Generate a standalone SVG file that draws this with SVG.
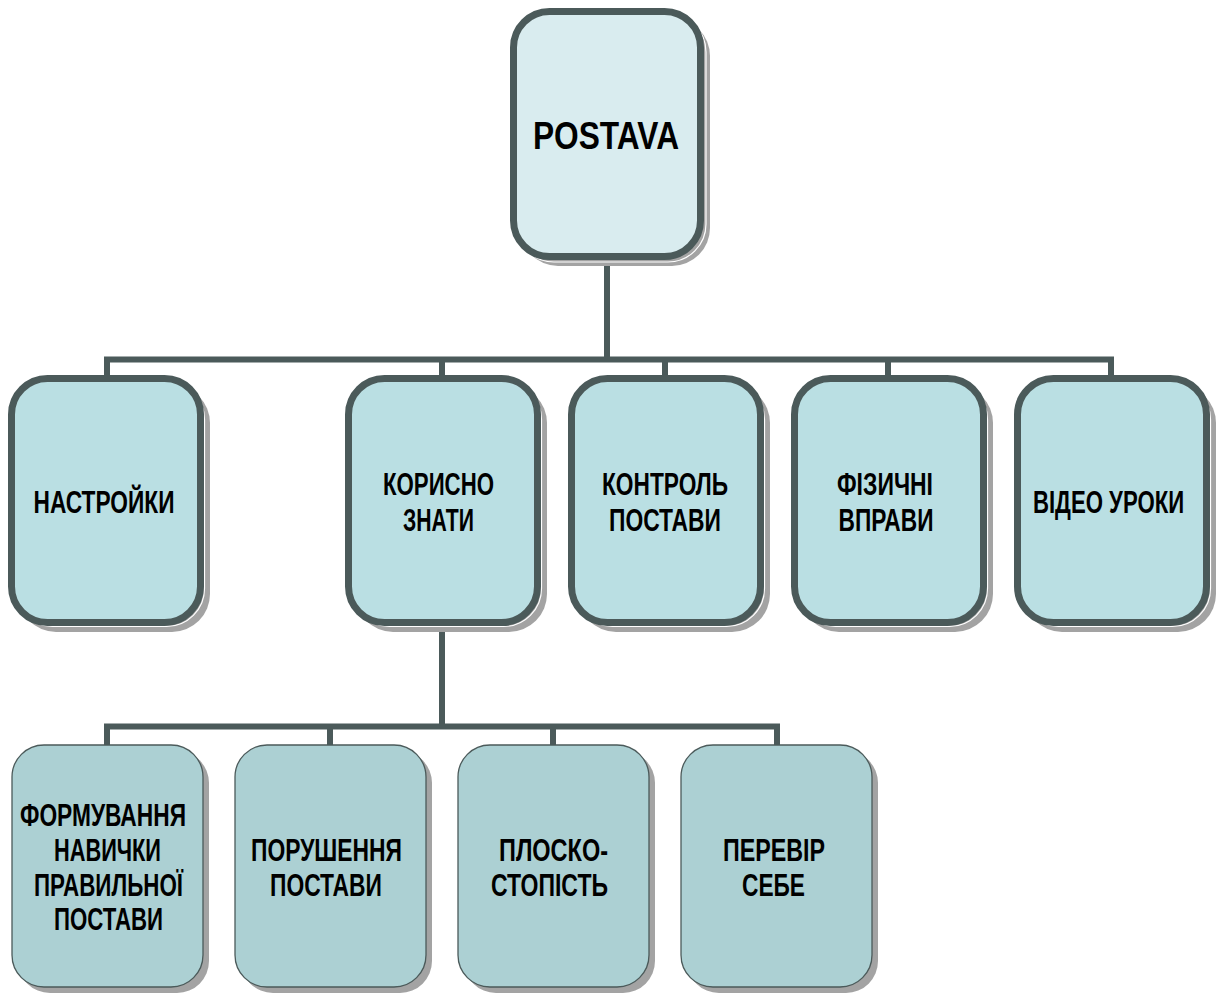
<svg xmlns="http://www.w3.org/2000/svg" width="1217" height="998" viewBox="0 0 1217 998">
<style>
.sh{fill:#a3a3a3;stroke:none}
.shl{fill:none;stroke:#ffffff;stroke-width:1.2}
.top{fill:#d9ecef;stroke:#4b5a5a;stroke-width:7}
.l1{fill:#badfe3;stroke:#4b5a5a;stroke-width:7}
.l2{fill:#acd0d3;stroke:#4b5a5a;stroke-width:1.3}
.c{fill:none;stroke:#4b5a5a;stroke-width:6}
text{font-family:"Liberation Sans",Arial,sans-serif;font-weight:bold;fill:#000;text-anchor:middle}
.t1{font-size:31px}
.t0{font-size:38px}
</style>
<rect width="1217" height="998" fill="#ffffff"/>
<g id="connectors">
<path class="c" d="M607,260 V359.5 M107,378 V359.5 H1111 V378 M442,359.5 V378 M665,359.5 V378 M888,359.5 V378"/>
<path class="c" d="M442,626 V726.5 M107,745 V726.5 H777 V745 M330,726.5 V745 M553,726.5 V745"/>
</g>
<g id="n-postava">
<rect class="sh" x="520" y="18" width="190" height="248" rx="38"/>
<rect class="shl" x="516" y="14" width="190" height="248" rx="38"/>
<rect class="top" x="513.5" y="11.5" width="187" height="245" rx="36"/>
<text class="t0" x="606" y="149" textLength="146" lengthAdjust="spacingAndGlyphs">POSTAVA</text>
</g>
<g id="n-nastroiky">
<rect class="sh" x="18" y="385" width="192" height="247" rx="38"/>
<rect class="shl" x="14.5" y="381.5" width="190" height="245" rx="38"/>
<rect class="l1" x="11.5" y="378.5" width="189" height="244" rx="36"/>
<text class="t1" x="104" y="513" textLength="141" lengthAdjust="spacingAndGlyphs">НАСТРОЙКИ</text>
</g>
<g id="n-korysno">
<rect class="sh" x="355" y="385" width="192" height="247" rx="38"/>
<rect class="shl" x="351.5" y="381.5" width="190" height="245" rx="38"/>
<rect class="l1" x="348.5" y="378.5" width="189" height="244" rx="36"/>
<text class="t1" x="438.5" y="495" textLength="111" lengthAdjust="spacingAndGlyphs">КОРИСНО</text>
<text class="t1" x="438.5" y="531" textLength="71" lengthAdjust="spacingAndGlyphs">ЗНАТИ</text>
</g>
<g id="n-kontrol">
<rect class="sh" x="578" y="385" width="192" height="247" rx="38"/>
<rect class="shl" x="574.5" y="381.5" width="190" height="245" rx="38"/>
<rect class="l1" x="571.5" y="378.5" width="189" height="244" rx="36"/>
<text class="t1" x="665" y="495" textLength="126" lengthAdjust="spacingAndGlyphs">КОНТРОЛЬ</text>
<text class="t1" x="665" y="531" textLength="112" lengthAdjust="spacingAndGlyphs">ПОСТАВИ</text>
</g>
<g id="n-fizychni">
<rect class="sh" x="801" y="385" width="192" height="247" rx="38"/>
<rect class="shl" x="797.5" y="381.5" width="190" height="245" rx="38"/>
<rect class="l1" x="794.5" y="378.5" width="189" height="244" rx="36"/>
<text class="t1" x="885" y="495" textLength="96" lengthAdjust="spacingAndGlyphs">ФІЗИЧНІ</text>
<text class="t1" x="886" y="531" textLength="95" lengthAdjust="spacingAndGlyphs">ВПРАВИ</text>
</g>
<g id="n-video">
<rect class="sh" x="1024" y="385" width="192" height="247" rx="38"/>
<rect class="shl" x="1020.5" y="381.5" width="190" height="245" rx="38"/>
<rect class="l1" x="1017.5" y="378.5" width="189" height="244" rx="36"/>
<text class="t1" transform="translate(1108.5,513) scale(0.8,1)" x="0" y="0" textLength="189" lengthAdjust="spacingAndGlyphs">ВІДЕО УРОКИ</text>
</g>
<g id="n-formuvannia">
<rect class="sh" x="18" y="751" width="191" height="242" rx="32"/>
<rect class="l2" x="12" y="745" width="191" height="242" rx="32"/>
<text class="t1" x="103" y="826" textLength="166" lengthAdjust="spacingAndGlyphs">ФОРМУВАННЯ</text>
<text class="t1" x="107.5" y="861" textLength="107" lengthAdjust="spacingAndGlyphs">НАВИЧКИ</text>
<text class="t1" x="108.5" y="896" textLength="149" lengthAdjust="spacingAndGlyphs">ПРАВИЛЬНОЇ</text>
<text class="t1" x="108.5" y="930" textLength="109" lengthAdjust="spacingAndGlyphs">ПОСТАВИ</text>
</g>
<g id="n-porushennia">
<rect class="sh" x="241" y="751" width="191" height="242" rx="32"/>
<rect class="l2" x="235" y="745" width="191" height="242" rx="32"/>
<text class="t1" x="326.5" y="861" textLength="151" lengthAdjust="spacingAndGlyphs">ПОРУШЕННЯ</text>
<text class="t1" x="326" y="896" textLength="112" lengthAdjust="spacingAndGlyphs">ПОСТАВИ</text>
</g>
<g id="n-plosko">
<rect class="sh" x="464" y="751" width="191" height="242" rx="32"/>
<rect class="l2" x="458" y="745" width="191" height="242" rx="32"/>
<text class="t1" x="553.5" y="861" textLength="109" lengthAdjust="spacingAndGlyphs">ПЛОСКО-</text>
<text class="t1" x="549.5" y="896" textLength="117" lengthAdjust="spacingAndGlyphs">СТОПІСТЬ</text>
</g>
<g id="n-perevir">
<rect class="sh" x="687" y="751" width="191" height="242" rx="32"/>
<rect class="l2" x="681" y="745" width="191" height="242" rx="32"/>
<text class="t1" x="774" y="861" textLength="102" lengthAdjust="spacingAndGlyphs">ПЕРЕВІР</text>
<text class="t1" x="773.5" y="896" textLength="63" lengthAdjust="spacingAndGlyphs">СЕБЕ</text>
</g>
</svg>
